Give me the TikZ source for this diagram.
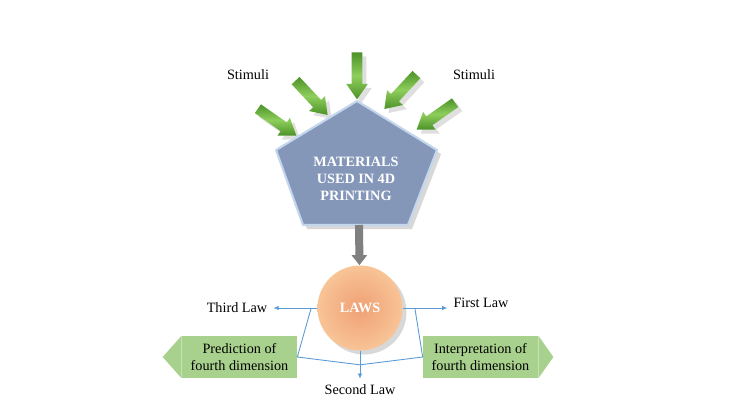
\documentclass[tikz,border=0pt]{standalone}
\usepackage{fontspec}
\setmainfont{Liberation Serif}
\usepackage{tikz}
\usetikzlibrary{positioning,shapes,arrows.meta,calc,shadows}
\definecolor{matblue}{RGB}{132,151,185}
\definecolor{matedge}{RGB}{196,214,236}
\definecolor{lawcore}{RGB}{239,160,116}
\definecolor{lawrim}{RGB}{248,196,150}
\definecolor{dimgreen}{RGB}{169,209,142}
\definecolor{stimdark}{RGB}{76,146,40}
\definecolor{stimlight}{RGB}{142,206,92}
\definecolor{linkblue}{RGB}{91,155,213}

\tikzset{
  stim/.style={single arrow, minimum height=0.94cm, inner sep=0pt, inner ysep=0.1cm, single arrow head extend=0.11cm, single arrow tip angle=70, top color=stimdark, bottom color=stimdark, middle color=stimlight, drop shadow={opacity=0.25}},
  dimbox/.style={rectangle, fill=dimgreen, minimum width=2.3cm, minimum height=0.84cm, inner sep=0pt, align=center},
  link/.style={draw=linkblue, line width=0.5pt},
  lawtip/.style={-{Latex[length=3pt,width=2.6pt]}}
}

\begin{document}
\begin{tikzpicture}[x=0.02cm, y=-0.02cm, font=\fontsize{8.1}{9.7}\selectfont]
        \useasboundingbox (0,0) rectangle (750,408);
        \fill[white] (0,0) rectangle (750,408);

        \node[stim, rotate=-35] (s1) at (274,120) {};
        \node[stim, rotate=-47] (s2) at (309,95) {};
        \node[stim, rotate=-90] (s3) at (357,72) {};
        \node[stim, rotate=-133] (s4) at (403,89) {};
        \node[stim, rotate=-145] (s5) at (439,114) {};
        \node (stimleft) at (248,75) {Stimuli};
        \node (stimright) at (474,75) {Stimuli};

        \filldraw[fill=matblue, draw=matedge, line width=1.2pt, line join=round, drop shadow={opacity=0.3}] (357,101) -- (437,150) -- (408,225) -- (303,225) -- (276,150) -- cycle;
        \node[text=white, font=\fontsize{8.1}{9.7}\selectfont\bfseries, align=center] (materials) at (356,179) {MATERIALS\\USED IN 4D\\PRINTING};
        \coordinate (matbase) at (359,225);

        \node[circle, minimum size=1.7cm, inner color=lawcore, outer color=lawrim, drop shadow={opacity=0.3}, text=white, font=\fontsize{8.1}{9.7}\selectfont\bfseries] (laws) at (360,308) {LAWS};
        \draw[gray, line width=0.16cm, -{Triangle[width=0.3cm, length=0.2cm]}] (matbase) -- (laws);

        \node (third) at (237,308) {Third Law};
        \node (first) at (481,303) {First Law};
        \node (second) at (360,390) {Second Law};
        \draw[link, lawtip] (laws.west) -- (laws.west -| third.east);
        \draw[link, lawtip] (laws.east) -- (laws.east -| first.west);
        \draw[link, lawtip] (laws) -- (second);

        \node[dimbox] (pred) at (239.5,357) {Prediction of\\fourth dimension};
        \fill[dimgreen] (pred.north west) -- ($(pred.west)+(-19,0)$) -- (pred.south west) -- cycle;
        \node[dimbox] (interp) at (480.5,357) {Interpretation of\\fourth dimension};
        \fill[dimgreen] (interp.north east) -- ($(interp.east)+(15,0)$) -- (interp.south east) -- cycle;

        \coordinate (thirdjoin) at ($(laws.west)+(-6,0)$);
        \coordinate (firstjoin) at ($(laws.east)+(12,0)$);
        \coordinate (secondjoin) at ($(laws.south)!0.5!(second.north)$);
        \draw[link] (thirdjoin) -- (pred.east) -- (secondjoin) -- (interp.west) -- (firstjoin);
    \end{tikzpicture}
\end{document}
